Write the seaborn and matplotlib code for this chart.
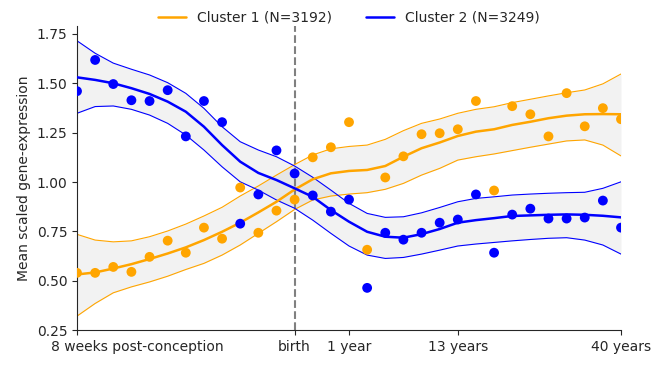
import numpy as np
import pandas as pd
import matplotlib
matplotlib.use("Agg")
import matplotlib.pyplot as plt
import matplotlib.transforms as mtransforms
import seaborn as sns

# time points (index along developmental axis)
stage = list(range(31))
tick_pos = [0, 12, 15, 21, 30]
tick_labels = ["8 weeks post-conception", "birth", "1 year", "13 years", "40 years"]

# mean scaled expression per stage
c1_points = [0.54, 0.54, 0.57, 0.545, 0.621, 0.703, 0.642, 0.769, 0.713, 0.972,
             0.743, 0.855, 0.911, 1.125, 1.176, 1.303, 0.657, 1.023, 1.13, 1.242,
             1.247, 1.267, 1.41, 0.957, 1.384, 1.343, 1.231, 1.45, 1.282, 1.374, 1.318]
c2_points = [1.46, 1.618, 1.496, 1.414, 1.41, 1.465, 1.231, 1.41, 1.303, 0.789,
             0.937, 1.16, 1.043, 0.932, 0.85, 0.911, 0.464, 0.743, 0.708, 0.743,
             0.794, 0.81, 0.937, 0.642, 0.835, 0.865, 0.815, 0.815, 0.82, 0.906, 0.769]

# smoothed fit + band
c1_fit = [0.532, 0.542, 0.562, 0.584, 0.61, 0.638, 0.669, 0.706, 0.748, 0.794,
          0.846, 0.900, 0.962, 1.014, 1.044, 1.056, 1.061, 1.081, 1.128, 1.171,
          1.200, 1.233, 1.255, 1.267, 1.289, 1.305, 1.323, 1.336, 1.343, 1.344, 1.343]
c1_upper = [0.735, 0.706, 0.697, 0.702, 0.723, 0.752, 0.787, 0.828, 0.872, 0.929,
            0.980, 1.035, 1.088, 1.137, 1.168, 1.180, 1.187, 1.216, 1.260, 1.297,
            1.319, 1.348, 1.368, 1.381, 1.402, 1.419, 1.436, 1.452, 1.466, 1.497, 1.547]
c1_lower = [0.321, 0.385, 0.439, 0.469, 0.494, 0.523, 0.557, 0.588, 0.630, 0.681,
            0.740, 0.799, 0.861, 0.909, 0.929, 0.939, 0.946, 0.963, 0.993, 1.035,
            1.069, 1.111, 1.128, 1.142, 1.159, 1.176, 1.192, 1.208, 1.213, 1.187, 1.132]
c2_fit = [1.530, 1.517, 1.500, 1.475, 1.446, 1.407, 1.356, 1.280, 1.187, 1.103,
          1.046, 1.010, 0.968, 0.925, 0.858, 0.799, 0.748, 0.723, 0.718, 0.736,
          0.762, 0.794, 0.807, 0.817, 0.828, 0.831, 0.834, 0.836, 0.834, 0.829, 0.821]
c2_upper = [1.715, 1.652, 1.602, 1.571, 1.542, 1.503, 1.449, 1.373, 1.280, 1.204,
            1.162, 1.128, 1.081, 1.024, 0.959, 0.892, 0.841, 0.821, 0.824, 0.844,
            0.871, 0.900, 0.917, 0.925, 0.934, 0.939, 0.943, 0.946, 0.948, 0.968, 1.001]
c2_lower = [1.348, 1.382, 1.385, 1.368, 1.339, 1.297, 1.238, 1.162, 1.077, 1.001,
            0.959, 0.909, 0.867, 0.807, 0.740, 0.676, 0.630, 0.613, 0.618, 0.635,
            0.655, 0.676, 0.686, 0.694, 0.702, 0.709, 0.715, 0.718, 0.706, 0.681, 0.635]

clusters = ["Cluster 1 (N=3192)", "Cluster 2 (N=3249)"]
colors = {clusters[0]: "orange", clusters[1]: "blue"}

pts = pd.DataFrame({
    "stage": stage * 2,
    "expr": c1_points + c2_points,
    "cluster": [clusters[0]] * 31 + [clusters[1]] * 31,
})
fits = pd.DataFrame({
    "stage": stage * 2,
    "fit": c1_fit + c2_fit,
    "upper": c1_upper + c2_upper,
    "lower": c1_lower + c2_lower,
    "cluster": [clusters[0]] * 31 + [clusters[1]] * 31,
})

sns.set_style("ticks")
plt.rcParams["font.family"] = ["DejaVu Sans"]

fig = plt.figure(figsize=(6.61, 3.66), dpi=100)
ax = fig.add_axes([0.1165, 0.098, 0.823, 0.831])

for name in clusters:
    sub = fits[fits["cluster"] == name]
    ax.fill_between(sub["stage"], sub["lower"], sub["upper"], color="grey", alpha=0.1, lw=0, zorder=1)
    sns.lineplot(data=sub, x="stage", y="upper", color=colors[name], lw=0.8, ax=ax, zorder=2)
    sns.lineplot(data=sub, x="stage", y="lower", color=colors[name], lw=0.8, ax=ax, zorder=2)

sns.lineplot(data=fits, x="stage", y="fit", hue="cluster", palette=colors, lw=1.8, ax=ax, zorder=3)
sns.scatterplot(data=pts, x="stage", y="expr", hue="cluster", palette=colors, s=50,
                edgecolor="none", ax=ax, zorder=4, legend=False)

ax.axvline(12, color="grey", ls="--", lw=1.5, zorder=0)

ax.set_xlim(0, 30)
ax.set_ylim(0.25, 1.79)
ax.set_yticks([0.25, 0.5, 0.75, 1.0, 1.25, 1.5, 1.75])
ax.set_yticklabels([f"{v:.2f}" for v in [0.25, 0.5, 0.75, 1.0, 1.25, 1.5, 1.75]])
ax.set_xticks(tick_pos)
ax.set_xticklabels(tick_labels)
ax.set_xlabel("")
ax.set_ylabel("Mean scaled gene-expression")
sns.despine(ax=ax)

# first label starts a bit left of its tick so it fits in the figure
first = ax.get_xticklabels()[0]
first.set_horizontalalignment("left")
first.set_transform(first.get_transform() + mtransforms.ScaledTranslation(-0.26, 0, fig.dpi_scale_trans))

handles, labels = ax.get_legend_handles_labels()
ax.legend(handles, labels, loc="lower center", bbox_to_anchor=(0.5, 0.985), ncol=2,
          frameon=False, borderaxespad=0, columnspacing=2.5)

fig.savefig("out.png", dpi=100)
